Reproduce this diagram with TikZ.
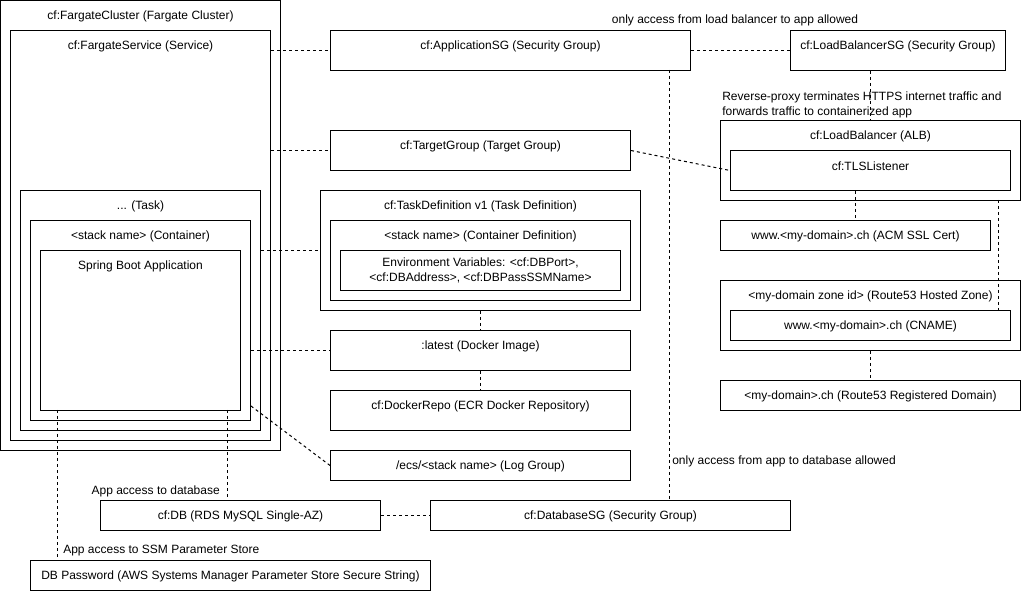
\documentclass[tikz,border=0pt]{standalone}
\usepackage{fontspec}
\setmainfont{Liberation Sans}
\usepackage{tikz}
\tikzstyle{link} = [draw, line width=0.75pt, dash pattern=on 2.25pt off 2.25pt]
\tikzstyle{ttl} = [anchor=center, yshift=-12pt, inner sep=0pt]
\tikzstyle{note} = [inner sep=0pt]
\tikzset{block/.style 2 args={draw, line width=0.75pt, rectangle, anchor=north west,
    inner sep=0pt, minimum width=#1*0.75pt, minimum height=#2*0.75pt}}
\begin{document}
\begin{tikzpicture}[x=0.75pt, y=-0.75pt, font=\fontsize{9}{11.25}\selectfont]
  \useasboundingbox (0,0) rectangle (1021,591);
   % Place nodes
    \node [block={280}{450}, label={[ttl]north:{cf:FargateCluster (Fargate Cluster)}}] (cluster) at (0,0) {};
    \node [block={260}{410}, label={[ttl]north:{cf:FargateService (Service)}}] (svc) at (10,30) {};
    \node [block={240}{240}, label={[ttl]north:{... (Task)}}] (task) at (20,190) {};
    \node [block={220}{200}, label={[ttl]north:{<stack name> (Container)}}] (cont) at (30,220) {};
    \node [block={200}{160}, label={[ttl]north:{Spring Boot Application}}] (app) at (40,250) {};

    \node [block={360}{40}, label={[ttl]north:{cf:ApplicationSG (Security Group)}}] (asg) at (330,30) {};
    \node [block={300}{40}, label={[ttl]north:{cf:TargetGroup (Target Group)}}] (tg) at (330,130) {};
    \node [block={320}{120}, label={[ttl]north:{cf:TaskDefinition v1 (Task Definition)}}] (tdef) at (320,190) {};
    \node [block={300}{80}, label={[ttl]north:{<stack name> (Container Definition)}}] (cdef) at (330,220) {};
    \node [block={280}{40}, align=center] (env) at (340,250) {Environment Variables: <cf:DBPort>,\\<cf:DBAddress>, <cf:DBPassSSMName>};
    \node [block={300}{40}, label={[ttl]north:{:latest (Docker Image)}}] (img) at (330,330) {};
    \node [block={300}{40}, label={[ttl]north:{cf:DockerRepo (ECR Docker Repository)}}] (repo) at (330,390) {};
    \node [block={300}{30}, label={[ttl]north:{/ecs/<stack name> (Log Group)}}] (log) at (330,450) {};

    \node [block={215}{40}, label={[ttl]north:{cf:LoadBalancerSG (Security Group)}}] (lbsg) at (790,30) {};
    \node [block={300}{80}, label={[ttl]north:{cf:LoadBalancer (ALB)}}] (lb) at (720,120) {};
    \node [block={280}{40}, label={[ttl]north:{cf:TLSListener}}] (tls) at (730,150) {};
    \node [block={270}{30}, label={[ttl]north:{www.<my-domain>.ch (ACM SSL Cert)}}] (acm) at (720,220) {};
    \node [block={300}{70}, label={[ttl]north:{<my-domain zone id> (Route53 Hosted Zone)}}] (zone) at (720,280) {};
    \node [block={280}{30}, label={[ttl]north:{www.<my-domain>.ch (CNAME)}}] (cname) at (730,310) {};
    \node [block={300}{30}, label={[ttl]north:{<my-domain>.ch (Route53 Registered Domain)}}] (reg) at (720,380) {};

    \node [block={280}{30}, label={[ttl]north:{cf:DB (RDS MySQL Single-AZ)}}] (db) at (100,500) {};
    \node [block={360}{30}, label={[ttl]north:{cf:DatabaseSG (Security Group)}}] (dbsg) at (430,500) {};
    \node [block={400}{30}, label={[ttl]north:{DB Password (AWS Systems Manager Parameter Store Secure String)}}] (pw) at (30,560) {};

   % Notes
    \node [note] (lbnote) at (735,20) {only access from load balancer to app allowed};
    \node [note, anchor=west, align=left] (proxynote) at (722,105) {Reverse-proxy terminates HTTPS internet traffic and\\forwards traffic to containerized app};
    \node [note, anchor=west] (dbnote) at (672,461) {only access from app to database allowed};
    \node [note, anchor=east] (appdbnote) at (220,491) {App access to database};
    \node [note, anchor=west] (ssmnote) at (63,551) {App access to SSM Parameter Store};

    \coordinate (asgtap) at (669,70);
    \coordinate (lbtap) at (998,200);
    \coordinate (dbtap) at (227,410);
    \coordinate (pwtap) at (57,410);

   % Draw edges
    \path [link] (asg.west -| svc.east) -- (asg.west);
    \path [link] (tg.west -| svc.east) -- (tg.west);
    \path [link] (tdef.west -| task.east) -- (tdef.west);
    \path [link] (img.west -| cont.east) -- (img.west);
    \path [link] ([yshift=11.25pt]cont.south east) -- (log.west);
    \path [link] (asg.east) -- (lbsg.west);
    \path [link] (tg.east) -- (tls.west);
    \path [link] (lb.north |- lbsg.south) -- (lb.north);
    \path [link] (acm.north |- tls.south) -- (acm.north);
    \path [link] (lbtap) -- (lbtap |- cname.north);
    \path [link] (zone.south) -- (reg.north);
    \path [link] (tdef.south) -- (img.north);
    \path [link] (img.south) -- (repo.north);
    \path [link] (asgtap) -- (asgtap |- dbsg.north);
    \path [link] (db.east) -- (dbsg.west);
    \path [link] (dbtap) -- (dbtap |- db.north);
    \path [link] (pwtap) -- (pwtap |- pw.north);
\end{tikzpicture}
\end{document}
